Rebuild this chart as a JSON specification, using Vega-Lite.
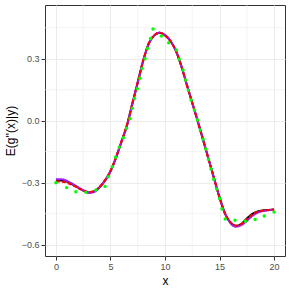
{
  "$schema": "https://vega.github.io/schema/vega-lite/v6.json",
  "width": 240,
  "height": 251,
  "autosize": {"type": "none"},
  "padding": {"left": 45, "top": 5, "right": 6, "bottom": 35},
  "background": "white",
  "config": {
    "view": {"stroke": "#333333", "strokeWidth": 1},
    "font": "Liberation Sans",
    "axis": {
      "domain": false,
      "grid": true,
      "gridColor": "#EBEBEB",
      "gridWidth": 1,
      "tickColor": "#333333",
      "tickSize": 4,
      "labelColor": "#4D4D4D",
      "labelFontSize": 9,
      "labelFont": "Liberation Sans",
      "titleFont": "Liberation Sans",
      "titleFontSize": 12,
      "titleFontWeight": "normal",
      "titleColor": "#000000"
    }
  },
  "datasets": {
    "curves": [
      {"x": 0, "b": -0.290, "r": -0.294, "p": -0.284},
      {"x": 0.5, "b": -0.290, "r": -0.295, "p": -0.283},
      {"x": 1, "b": -0.295, "r": -0.300, "p": -0.291},
      {"x": 1.5, "b": -0.308, "r": -0.311, "p": -0.305},
      {"x": 2, "b": -0.323, "r": -0.325, "p": -0.321},
      {"x": 2.5, "b": -0.338, "r": -0.337, "p": -0.337},
      {"x": 3, "b": -0.348, "r": -0.345, "p": -0.349},
      {"x": 3.5, "b": -0.343, "r": -0.341, "p": -0.345},
      {"x": 4, "b": -0.322, "r": -0.321, "p": -0.323},
      {"x": 4.5, "b": -0.290, "r": -0.288, "p": -0.290},
      {"x": 5, "b": -0.245, "r": -0.243, "p": -0.246},
      {"x": 5.5, "b": -0.180, "r": -0.178, "p": -0.181},
      {"x": 6, "b": -0.103, "r": -0.101, "p": -0.104},
      {"x": 6.5, "b": -0.025, "r": -0.023, "p": -0.026},
      {"x": 7, "b": 0.080, "r": 0.082, "p": 0.079},
      {"x": 7.5, "b": 0.185, "r": 0.187, "p": 0.185},
      {"x": 8, "b": 0.290, "r": 0.291, "p": 0.290},
      {"x": 8.5, "b": 0.372, "r": 0.373, "p": 0.372},
      {"x": 9, "b": 0.412, "r": 0.413, "p": 0.413},
      {"x": 9.5, "b": 0.426, "r": 0.426, "p": 0.427},
      {"x": 10, "b": 0.414, "r": 0.413, "p": 0.415},
      {"x": 10.5, "b": 0.386, "r": 0.385, "p": 0.387},
      {"x": 11, "b": 0.338, "r": 0.337, "p": 0.339},
      {"x": 11.5, "b": 0.264, "r": 0.263, "p": 0.265},
      {"x": 12, "b": 0.174, "r": 0.173, "p": 0.175},
      {"x": 12.5, "b": 0.086, "r": 0.085, "p": 0.087},
      {"x": 13, "b": -0.002, "r": -0.003, "p": -0.001},
      {"x": 13.5, "b": -0.094, "r": -0.095, "p": -0.093},
      {"x": 14, "b": -0.187, "r": -0.188, "p": -0.186},
      {"x": 14.5, "b": -0.280, "r": -0.281, "p": -0.279},
      {"x": 15, "b": -0.372, "r": -0.372, "p": -0.371},
      {"x": 15.5, "b": -0.450, "r": -0.449, "p": -0.450},
      {"x": 16, "b": -0.494, "r": -0.491, "p": -0.496},
      {"x": 16.5, "b": -0.511, "r": -0.507, "p": -0.514},
      {"x": 17, "b": -0.500, "r": -0.499, "p": -0.506},
      {"x": 17.5, "b": -0.474, "r": -0.477, "p": -0.485},
      {"x": 18, "b": -0.451, "r": -0.455, "p": -0.461},
      {"x": 18.5, "b": -0.439, "r": -0.441, "p": -0.445},
      {"x": 19, "b": -0.434, "r": -0.435, "p": -0.437},
      {"x": 19.5, "b": -0.432, "r": -0.432, "p": -0.433},
      {"x": 20, "b": -0.430, "r": -0.430, "p": -0.431}
    ],
    "pts": [
      {"x": 0.0, "y": -0.300},
      {"x": 0.98, "y": -0.324},
      {"x": 1.83, "y": -0.344},
      {"x": 2.75, "y": -0.347},
      {"x": 3.67, "y": -0.335},
      {"x": 4.5, "y": -0.319},
      {"x": 4.8, "y": -0.271},
      {"x": 5.17, "y": -0.223},
      {"x": 5.47, "y": -0.177},
      {"x": 5.8, "y": -0.129},
      {"x": 6.18, "y": -0.082},
      {"x": 6.48, "y": -0.037},
      {"x": 6.8, "y": 0.011},
      {"x": 7.0, "y": 0.060},
      {"x": 7.2, "y": 0.108},
      {"x": 7.46, "y": 0.155},
      {"x": 7.7, "y": 0.205},
      {"x": 7.9, "y": 0.253},
      {"x": 8.17, "y": 0.300},
      {"x": 8.4, "y": 0.350},
      {"x": 8.68, "y": 0.398},
      {"x": 8.9, "y": 0.444},
      {"x": 9.66, "y": 0.410},
      {"x": 10.34, "y": 0.377},
      {"x": 11.04, "y": 0.342},
      {"x": 11.3, "y": 0.297},
      {"x": 11.65, "y": 0.245},
      {"x": 11.9, "y": 0.197},
      {"x": 12.14, "y": 0.148},
      {"x": 12.39, "y": 0.100},
      {"x": 12.7, "y": 0.052},
      {"x": 12.97, "y": 0.003},
      {"x": 13.24, "y": -0.045},
      {"x": 13.49, "y": -0.090},
      {"x": 13.73, "y": -0.137},
      {"x": 13.98, "y": -0.187},
      {"x": 14.22, "y": -0.234},
      {"x": 14.46, "y": -0.284},
      {"x": 14.74, "y": -0.331},
      {"x": 15.01, "y": -0.377},
      {"x": 15.23, "y": -0.428},
      {"x": 15.52, "y": -0.476},
      {"x": 16.42, "y": -0.482},
      {"x": 17.36, "y": -0.487},
      {"x": 18.26, "y": -0.478},
      {"x": 19.1, "y": -0.461},
      {"x": 20.0, "y": -0.442}
    ],
    "minorx": [{"v": 2.5}, {"v": 7.5}, {"v": 12.5}, {"v": 17.5}],
    "minory": [{"v": 0.45}, {"v": 0.15}, {"v": -0.15}, {"v": -0.45}]
  },
  "layer": [
    {
      "data": {"name": "minorx"},
      "mark": {"type": "rule", "color": "#EBEBEB", "strokeWidth": 0.6},
      "encoding": {
        "x": {"field": "v", "type": "quantitative", "scale": {"domain": [-1, 21], "nice": false, "zero": false}}
      }
    },
    {
      "data": {"name": "minory"},
      "mark": {"type": "rule", "color": "#EBEBEB", "strokeWidth": 0.6},
      "encoding": {
        "y": {"field": "v", "type": "quantitative", "scale": {"domain": [-0.655, 0.56], "nice": false, "zero": false}}
      }
    },
    {
      "data": {"name": "curves"},
      "mark": {"type": "line", "color": "#000000", "strokeWidth": 2, "interpolate": "monotone"},
      "encoding": {
        "x": {"field": "x", "type": "quantitative", "title": "x",
              "scale": {"domain": [-1, 21], "nice": false, "zero": false},
              "axis": {"values": [0, 5, 10, 15, 20], "titlePadding": 4, "labelPadding": 2}},
        "y": {"field": "b", "type": "quantitative", "title": "E(g''(x)|y)",
              "scale": {"domain": [-0.655, 0.56], "nice": false, "zero": false},
              "axis": {"values": [-0.6, -0.3, 0, 0.3], "format": ".1f", "titlePadding": 4, "labelPadding": 2}}
      }
    },
    {
      "data": {"name": "curves"},
      "mark": {"type": "line", "color": "#A020F0", "strokeWidth": 2, "interpolate": "monotone"},
      "encoding": {
        "x": {"field": "x", "type": "quantitative"},
        "y": {"field": "p", "type": "quantitative"}
      }
    },
    {
      "data": {"name": "curves"},
      "mark": {"type": "line", "color": "#FF0000", "strokeWidth": 2, "strokeDash": [4, 2], "interpolate": "monotone"},
      "encoding": {
        "x": {"field": "x", "type": "quantitative"},
        "y": {"field": "r", "type": "quantitative"}
      }
    },
    {
      "data": {"name": "pts"},
      "mark": {"type": "circle", "color": "#00FF00", "opacity": 1, "size": 12},
      "encoding": {
        "x": {"field": "x", "type": "quantitative"},
        "y": {"field": "y", "type": "quantitative"}
      }
    }
  ]
}
